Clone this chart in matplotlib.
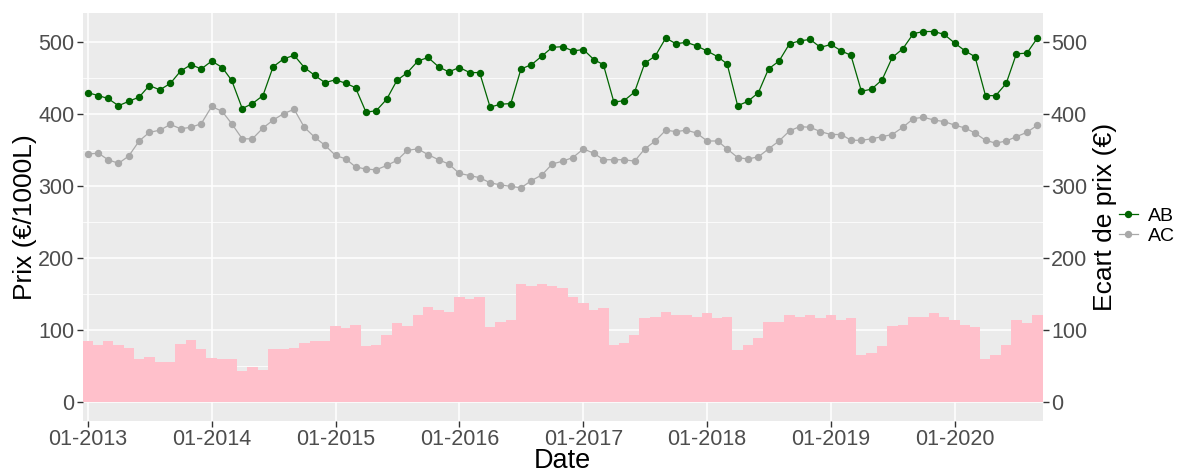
import pandas as pd
import matplotlib.pyplot as plt
import matplotlib.dates as mdates

plt.rcParams['font.family'] = ['Liberation Sans', 'DejaVu Sans']

# monthly prices, Jan 2013 - Sep 2020
dates = pd.date_range('2013-01-01', periods=93, freq='MS')

ab = [430, 426, 422, 412, 418, 424, 440, 434, 443, 460, 469, 463,
      474, 465, 447, 408, 415, 426, 466, 477, 482, 465, 454, 444,
      448, 443, 437, 403, 405, 421, 447, 458, 474, 479, 466, 459,
      465, 458, 458, 410, 414, 415, 463, 469, 481, 493, 494, 488,
      490, 476, 469, 417, 419, 431, 471, 481, 506, 498, 500, 495,
      488, 480, 470, 412, 418, 430, 463, 474, 498, 502, 504, 493,
      497, 488, 482, 432, 435, 448, 479, 491, 512, 515, 515, 511,
      499, 488, 480, 426, 426, 443, 484, 485, 506]

ac = [345, 346, 337, 332, 342, 363, 375, 378, 386, 380, 382, 387,
      411, 404, 387, 366, 366, 381, 392, 401, 407, 382, 368, 357,
      343, 338, 327, 324, 323, 329, 336, 350, 352, 344, 337, 331,
      318, 315, 312, 305, 302, 300, 298, 308, 316, 331, 335, 340,
      352, 346, 337, 337, 337, 335, 352, 363, 378, 376, 378, 374,
      363, 363, 352, 340, 338, 341, 352, 363, 377, 383, 382, 376,
      372, 372, 364, 364, 366, 369, 372, 382, 394, 396, 392, 390,
      385, 381, 374, 364, 360, 363, 369, 375, 385]

ecart = [85, 80, 85, 80, 76, 60, 63, 56, 56, 81, 87, 74,
         62, 60, 60, 43, 49, 45, 74, 74, 76, 82, 85, 85,
         106, 103, 108, 79, 80, 93, 110, 106, 122, 133, 129, 126,
         146, 143, 146, 105, 111, 115, 165, 161, 165, 161, 159, 147,
         138, 129, 131, 80, 82, 94, 117, 118, 126, 121, 121, 119,
         124, 117, 118, 73, 80, 89, 111, 111, 121, 118, 121, 117,
         122, 115, 117, 66, 69, 78, 106, 107, 118, 119, 124, 119,
         114, 107, 105, 60, 66, 80, 114, 110, 121]

fig = plt.figure(figsize=(12.04, 4.73), dpi=100)
ax = fig.add_axes([0.0687, 0.110, 0.7973, 0.8625])
ax.set_facecolor('#EBEBEB')

ax.bar(dates, ecart, width=31, color='#FFC0CB', linewidth=0, zorder=2)
ax.plot(dates, ab, color='#006400', lw=0.9, marker='o', ms=4.3, zorder=3, label='AB')
ax.plot(dates, ac, color='#A9A9A9', lw=0.9, marker='o', ms=4.3, zorder=3, label='AC')

ax.set_xlim(dates[0] - pd.Timedelta(days=15.5), dates[-1] + pd.Timedelta(days=15.5))
ax.set_ylim(-25.75, 540.7)

ax.set_yticks([0, 100, 200, 300, 400, 500])
ax.set_yticks([50, 150, 250, 350, 450], minor=True)
ax.xaxis.set_major_locator(mdates.YearLocator())
ax.xaxis.set_major_formatter(mdates.DateFormatter('%m-%Y'))

ax.grid(True, which='major', color='white', lw=1.1, zorder=0)
ax.grid(True, which='minor', axis='y', color='white', lw=0.55, zorder=0)
ax.set_axisbelow(True)
for s in ax.spines.values():
    s.set_visible(False)
ax.tick_params(which='major', length=4, width=1, color='#333333', labelsize=15.5,
               labelcolor='#4D4D4D', pad=2)
ax.tick_params(which='minor', length=0)

ax.set_xlabel('Date', fontsize=19.5, labelpad=-2)
ax.set_ylabel('Prix (€/1000L)', fontsize=19, labelpad=1)

ax2 = ax.twinx()
ax2.set_ylim(ax.get_ylim())
ax2.set_yticks([0, 100, 200, 300, 400, 500])
for s in ax2.spines.values():
    s.set_visible(False)
ax2.tick_params(length=4, width=1, color='#333333', labelsize=15.5,
                labelcolor='#4D4D4D', pad=2)
ax2.set_ylabel('Ecart de prix (€)', fontsize=19, labelpad=4)

leg = ax.legend(loc='center left', bbox_to_anchor=(1.061, 0.478), frameon=False,
                fontsize=14, handlelength=1.0, labelspacing=0.1, handletextpad=0.5)

fig.savefig('out.png', dpi=100)
